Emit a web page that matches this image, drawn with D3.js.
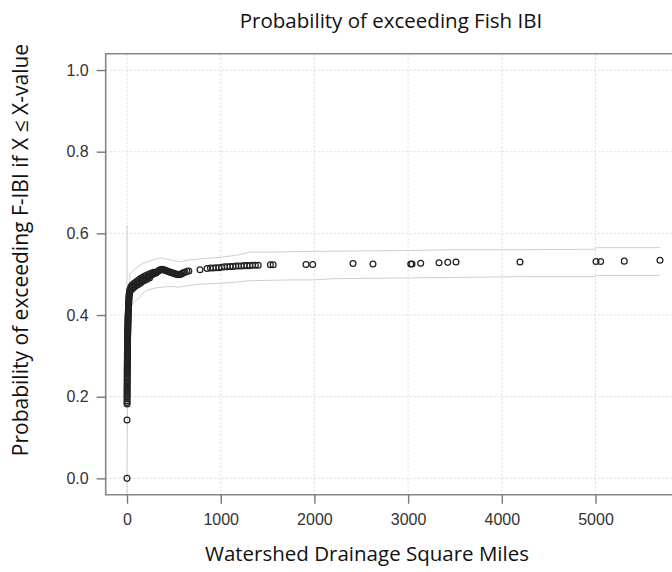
<!DOCTYPE html>
<html>
<head>
<meta charset="utf-8">
<script src="https://cdn.jsdelivr.net/npm/d3@7/dist/d3.min.js"></script>
<style>
  html, body { margin: 0; padding: 0; background: #fff; }
  svg { display: block; }
</style>
</head>
<body>
<svg id="chart" width="672" height="572"></svg>
<script>
// ---------- DATA ----------
const xTicks = [0, 1000, 2000, 3000, 4000, 5000];
const yTicks = [0.0, 0.2, 0.4, 0.6, 0.8, 1.0];

const drainageNearZero = [0, 0.3, 0.5, 0.6, 0.7,
  0.8, 0.9, 1.0, 1.1, 1.2, 1.3, 1.4, 1.5, 1.6, 1.7, 1.8, 1.9, 2.0, 2.1, 2.2, 2.3,
  2.4, 2.5, 2.6, 2.7, 2.8, 2.9, 3.0, 3.1, 3.2, 3.3, 3.4, 3.5, 3.6, 3.7, 3.8, 3.9, 4.0, 4.2, 4.4, 4.6,
  4.8, 5.0, 5.2, 5.4, 5.6, 5.8, 6.0, 6.2, 6.4, 6.6, 6.8, 7.0, 7.3, 7.6, 7.9, 8.2, 8.5, 8.8, 9.1, 9.4,
  9.7, 10, 10.4, 10.8, 11.2, 11.6, 12, 12.5, 13, 13.5, 14, 14.5, 15, 15.6, 16.2, 16.8, 17.4, 18, 18.7, 19.4,
  20, 20.8, 21.6, 22.4, 23.2, 24, 25.5, 27, 28.5, 30];
const probNearZero = [0, 0.143, 0.182, 0.186, 0.19,
  0.195, 0.199, 0.203, 0.207, 0.211, 0.215, 0.219, 0.223, 0.227, 0.231, 0.235, 0.239, 0.243, 0.247, 0.251, 0.255,
  0.258, 0.261, 0.264, 0.267, 0.270, 0.273, 0.276, 0.279, 0.282, 0.285, 0.288, 0.291, 0.294, 0.297, 0.300, 0.303, 0.306, 0.309, 0.312, 0.315,
  0.318, 0.321, 0.324, 0.327, 0.330, 0.333, 0.336, 0.339, 0.342, 0.345, 0.348, 0.351, 0.354, 0.357, 0.360, 0.363, 0.366, 0.369, 0.372, 0.375,
  0.378, 0.381, 0.384, 0.387, 0.390, 0.393, 0.396, 0.399, 0.402, 0.405, 0.408, 0.411, 0.414, 0.417, 0.420, 0.423, 0.426, 0.429, 0.432, 0.435,
  0.438, 0.441, 0.444, 0.447, 0.450, 0.452, 0.454, 0.456, 0.458, 0.460];

const drainageRise = [33, 36, 40, 45, 50, 55, 60, 66, 72, 78, 85, 92, 100, 108, 116, 125, 134, 143, 152, 161, 170, 180, 190, 200, 210, 220, 230, 240, 250, 260, 270, 280, 290, 300, 310, 320, 330, 340, 350, 360, 370, 380, 390, 400, 412, 425, 438, 450, 462, 475, 488, 500, 512, 525, 538, 550, 562, 575, 590, 605, 620, 640, 660];
const probRise = [0.462, 0.464, 0.461, 0.466, 0.463, 0.467, 0.468, 0.466, 0.471, 0.469, 0.473, 0.471, 0.475, 0.477, 0.474, 0.479, 0.481, 0.478, 0.484, 0.482, 0.486, 0.484, 0.488, 0.49, 0.487, 0.492, 0.494, 0.491, 0.496, 0.498, 0.499, 0.501, 0.502, 0.504, 0.503, 0.506, 0.507, 0.509, 0.51, 0.511, 0.512, 0.511, 0.511, 0.51, 0.509, 0.508, 0.507, 0.506, 0.505, 0.504, 0.503, 0.502, 0.501, 0.5, 0.499, 0.5, 0.499, 0.5, 0.502, 0.504, 0.505, 0.507, 0.508];

const drainageRiseUpper = [42, 58, 75, 95, 112, 130, 148, 165, 185, 205, 225, 245, 265, 285];
const probRiseUpper = [0.470, 0.474, 0.478, 0.481, 0.484, 0.487, 0.490, 0.492, 0.495, 0.497, 0.499, 0.501, 0.503, 0.505];

const drainageTail = [779, 854, 890, 920, 950, 980, 1010, 1040, 1070, 1100, 1130, 1160, 1190, 1220, 1250, 1280, 1310, 1340, 1370, 1400, 1530, 1560, 1910, 1982, 2412, 2625, 3028, 3042, 3134, 3330, 3423, 3511, 4194, 5005, 5055, 5307, 5688];
const probTail = [0.511, 0.514, 0.515, 0.515, 0.516, 0.516, 0.517, 0.518, 0.518, 0.519, 0.519, 0.52, 0.52, 0.52, 0.521, 0.521, 0.521, 0.522, 0.522, 0.522, 0.523, 0.523, 0.524, 0.524, 0.526, 0.525, 0.525, 0.525, 0.527, 0.528, 0.529, 0.530, 0.530, 0.531, 0.531, 0.532, 0.534];

const upperBandX = [0, 0, 3, 10, 20, 32, 80, 139, 170, 245, 300, 352, 400, 459, 520, 566, 620, 672, 800, 1025, 1200, 1313, 1500, 1740, 2000, 2500, 3000, 3500, 4200, 5000, 5010, 5688];
const upperBandY = [0.62, 0.30, 0.33, 0.42, 0.47, 0.50, 0.512, 0.522, 0.527, 0.532, 0.537, 0.54, 0.538, 0.535, 0.532, 0.530, 0.533, 0.535, 0.538, 0.542, 0.548, 0.554, 0.554, 0.555, 0.556, 0.557, 0.558, 0.560, 0.560, 0.561, 0.565, 0.565];

const lowerBandX = [0, 2, 8, 15, 25, 32, 64, 139, 170, 213, 300, 400, 491, 544, 651, 800, 1025, 1300, 1740, 2000, 2200, 3000, 3500, 4200, 5000, 5010, 5688];
const lowerBandY = [-0.06, 0.10, 0.25, 0.33, 0.38, 0.41, 0.43, 0.444, 0.454, 0.461, 0.466, 0.469, 0.47, 0.468, 0.472, 0.476, 0.478, 0.484, 0.486, 0.486, 0.489, 0.491, 0.492, 0.494, 0.494, 0.497, 0.497];

const titleText = "Probability of exceeding Fish IBI";
const xTitleText = "Watershed Drainage Square Miles";
const yTitleText = "Probability of exceeding F-IBI if X \u2264 X-value";

// ---------- BUILD ----------
const drainage = drainageNearZero.concat(drainageRise, drainageRiseUpper, drainageTail);
const prob = probNearZero.concat(probRise, probRiseUpper, probTail);
const points = drainage.map((d, i) => ({ x: d, y: prob[i] }));
const upper = upperBandX.map((d, i) => ({ x: d, y: upperBandY[i] }));
const lower = lowerBandX.map((d, i) => ({ x: d, y: lowerBandY[i] }));

const svg = d3.select("#chart");

const x = d3.scaleLinear().domain([-227.5, 5915.5]).range([105.7, 681.3]);
const y = d3.scaleLinear().domain([-0.04, 1.04]).range([494.7, 53.7]);

const plotL = x.range()[0], plotR = x.range()[1], plotT = y.range()[1], plotB = y.range()[0];

svg.append("defs").append("clipPath").attr("id", "clip")
  .append("rect").attr("x", plotL).attr("y", plotT).attr("width", plotR - plotL).attr("height", plotB - plotT);

// gridlines
const grid = svg.append("g");
grid.selectAll("line.gx").data(xTicks).join("line")
  .attr("x1", d => x(d)).attr("x2", d => x(d))
  .attr("y1", plotT).attr("y2", plotB)
  .attr("stroke", "#dcdcdc").attr("stroke-width", 1).attr("stroke-dasharray", "2,2");
grid.selectAll("line.gy").data(yTicks).join("line")
  .attr("y1", d => y(d)).attr("y2", d => y(d))
  .attr("x1", plotL).attr("x2", plotR)
  .attr("stroke", "#dcdcdc").attr("stroke-width", 1).attr("stroke-dasharray", "2,2");

// confidence bands
const line = d3.line().x(d => x(d.x)).y(d => y(d.y));
const bands = svg.append("g").attr("clip-path", "url(#clip)");
[upper, lower].forEach(b => {
  bands.append("path").datum(b).attr("d", line)
    .attr("fill", "none").attr("stroke", "#cfcfcf").attr("stroke-width", 1);
});

// points
svg.append("g").attr("clip-path", "url(#clip)")
  .selectAll("circle").data(points).join("circle")
  .attr("cx", d => x(d.x)).attr("cy", d => y(d.y)).attr("r", 2.9)
  .attr("fill", "none").attr("stroke", "#222").attr("stroke-width", 1.25);

// box (top, left, bottom)
svg.append("path")
  .attr("d", `M${plotR},${plotT}H${plotL}V${plotB}H${plotR}`)
  .attr("fill", "none").attr("stroke", "#858585").attr("stroke-width", 1.6);

// axes
const xAxis = d3.axisBottom(x).tickValues(xTicks).tickSize(9).tickPadding(10).tickFormat(d3.format("d"));
const gx = svg.append("g").attr("transform", `translate(0,${plotB})`).call(xAxis);
gx.select(".domain").remove();
gx.selectAll(".tick line").attr("stroke", "#777").attr("stroke-width", 1.4);
gx.selectAll(".tick text").attr("fill", "#333").style("font-family", "'Liberation Sans', Arial, sans-serif").style("font-size", "16px");

const yAxis = d3.axisLeft(y).tickValues(yTicks).tickSize(9).tickPadding(8).tickFormat(d3.format(".1f"));
const gy = svg.append("g").attr("transform", `translate(${plotL},0)`).call(yAxis);
gy.select(".domain").remove();
gy.selectAll(".tick line").attr("stroke", "#777").attr("stroke-width", 1.4);
gy.selectAll(".tick text").attr("fill", "#333").style("font-family", "'Liberation Sans', Arial, sans-serif").style("font-size", "16px");

// titles
const titleFont = "'Open Sans', Lato, sans-serif";
svg.append("text").attr("x", 391).attr("y", 28).attr("text-anchor", "middle")
  .style("font-family", titleFont).style("font-size", "20.5px").attr("fill", "#111").text(titleText);
svg.append("text").attr("x", 367).attr("y", 561).attr("text-anchor", "middle")
  .style("font-family", titleFont).style("font-size", "20.5px").attr("fill", "#111").text(xTitleText);
svg.append("text").attr("transform", "translate(28,250) rotate(-90)").attr("text-anchor", "middle")
  .style("font-family", titleFont).style("font-size", "21px").attr("fill", "#111").text(yTitleText);
</script>
</body>
</html>
